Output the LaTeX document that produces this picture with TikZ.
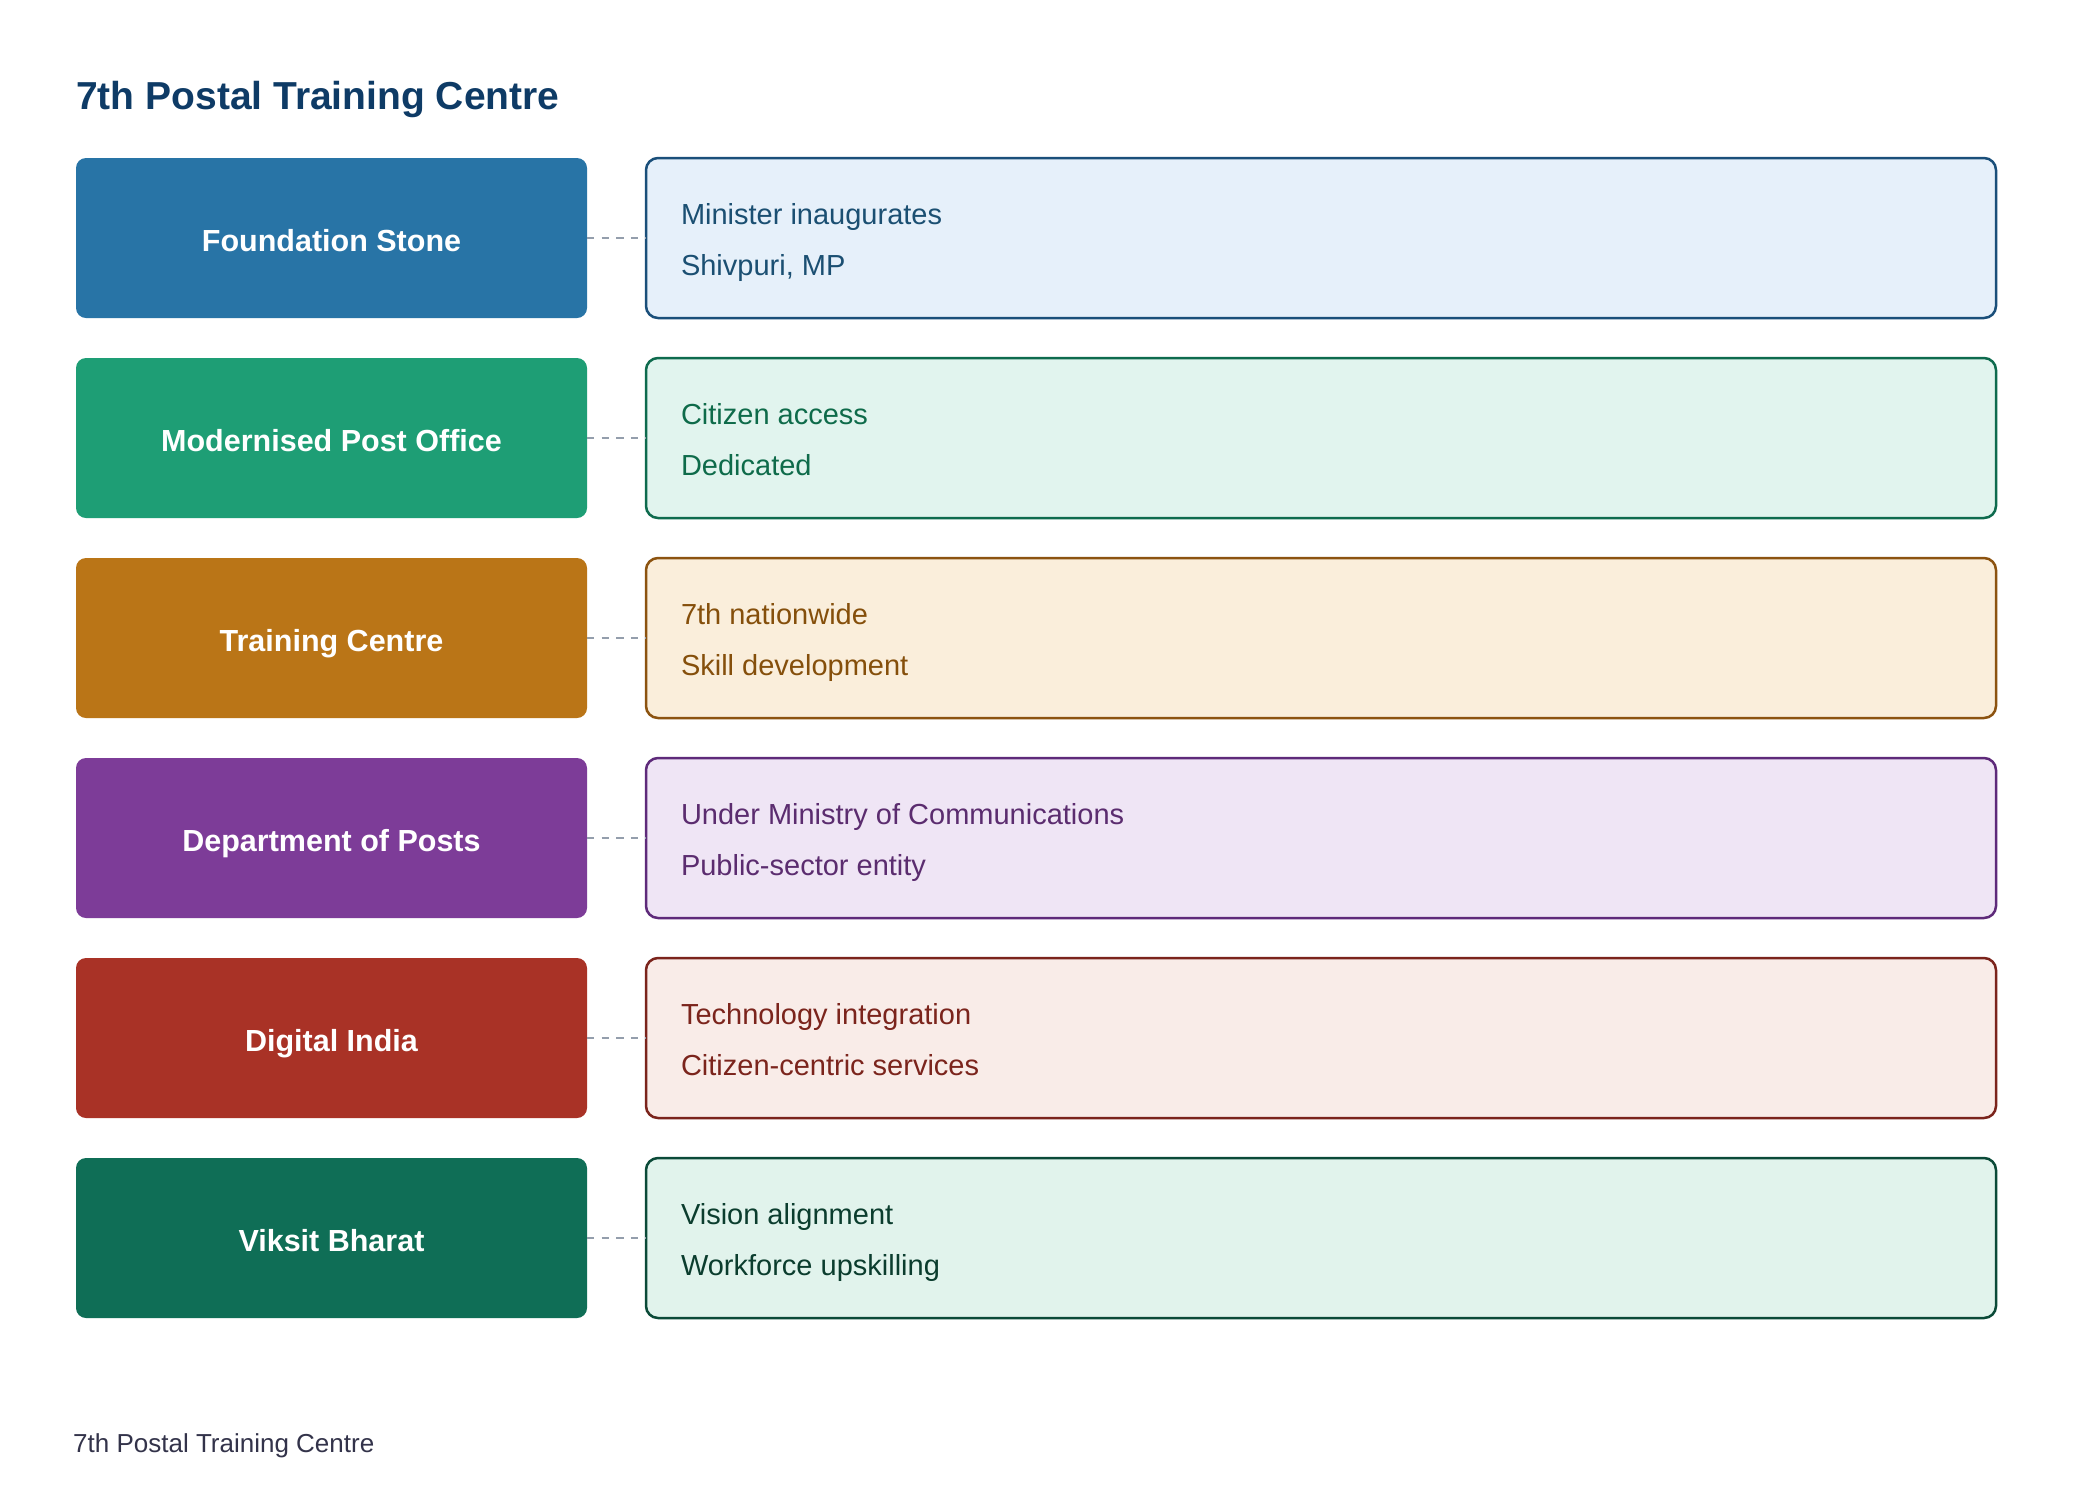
\documentclass[tikz,border=0pt]{standalone}
\usepackage{fontspec}
\setmainfont{Liberation Sans}
\definecolor{titleC}{HTML}{0E3B66}
\definecolor{footC}{HTML}{33334A}
\definecolor{connC}{HTML}{949EAC}
\definecolor{aL}{HTML}{2874A6}\definecolor{aF}{HTML}{E6F0FA}\definecolor{aB}{HTML}{1A4F7A}\definecolor{aT}{HTML}{1B4F72}
\definecolor{bL}{HTML}{1E9E75}\definecolor{bF}{HTML}{E1F4EE}\definecolor{bB}{HTML}{0E6B4E}\definecolor{bT}{HTML}{0E6B4A}
\definecolor{cL}{HTML}{BA7517}\definecolor{cF}{HTML}{FAEEDB}\definecolor{cB}{HTML}{8C5310}\definecolor{cT}{HTML}{854F0B}
\definecolor{dL}{HTML}{7D3C98}\definecolor{dF}{HTML}{EFE5F5}\definecolor{dB}{HTML}{5E2A7A}\definecolor{dT}{HTML}{5B2C6F}
\definecolor{eL}{HTML}{A93226}\definecolor{eF}{HTML}{F9ECE8}\definecolor{eB}{HTML}{7B241C}\definecolor{eT}{HTML}{7B241C}
\definecolor{fL}{HTML}{0F6E56}\definecolor{fF}{HTML}{E1F3EC}\definecolor{fB}{HTML}{0B4A38}\definecolor{fT}{HTML}{0B3D2E}
\tikzset{
  leftbox/.style={rectangle, rounded corners=10pt, minimum width=511pt, minimum height=160pt,
    inner sep=0pt, outer sep=0pt, text=white, text height=27pt, text depth=0pt,
    font=\fontsize{30.5}{36}\selectfont\bfseries},
  rightbox/.style={rectangle, rounded corners=12pt, minimum width=1350pt, minimum height=160pt,
    inner sep=0pt, outer sep=0pt, line width=2.5pt},
  rtext/.style={inner sep=0pt, outer sep=0pt, font=\fontsize{29}{34}\selectfont},
  conn/.style={draw=connC, line width=2.6pt, dash pattern=on 7.3pt off 7.3pt},
}
\newcommand\pcrow[9]{%
  \node[leftbox, fill=#3] (L#1) at (331.5,#2+80) {#7};
  \node[rightbox, fill=#4, draw=#5] (R#1) at (1321,#2+80) {};
  \node[rtext, text=#6, anchor=base west] (A#1) at (681,#2+66) {#8};
  \node[rtext, text=#6, anchor=base west] (B#1) at (681,#2+117) {#9};
  \draw[conn] (L#1.east) -- (R#1.west);
}
\begin{document}
\begin{tikzpicture}[x=1pt,y=-1pt]
\useasboundingbox (0,0) rectangle (2080,1508);
\fill[white] (0,0) rectangle (2080,1508);
\node[anchor=base west, inner sep=0pt, text=titleC, font=\fontsize{39}{46}\selectfont\bfseries] (title) at (76,109) {7th Postal Training Centre};
\pcrow{1}{158}{aL}{aF}{aB}{aT}{Foundation Stone}{Minister inaugurates}{Shivpuri, MP}
\pcrow{2}{358}{bL}{bF}{bB}{bT}{Modernised Post Office}{Citizen access}{Dedicated}
\pcrow{3}{558}{cL}{cF}{cB}{cT}{Training Centre}{7th nationwide}{Skill development}
\pcrow{4}{758}{dL}{dF}{dB}{dT}{Department of Posts}{Under Ministry of Communications}{Public-sector entity}
\pcrow{5}{958}{eL}{eF}{eB}{eT}{Digital India}{Technology integration}{Citizen-centric services}
\pcrow{6}{1158}{fL}{fF}{fB}{fT}{Viksit Bharat}{Vision alignment}{Workforce upskilling}
\node[anchor=base west, inner sep=0pt, text=footC, font=\fontsize{26}{31}\selectfont] (footer) at (73,1452) {7th Postal Training Centre};
\end{tikzpicture}
\end{document}
